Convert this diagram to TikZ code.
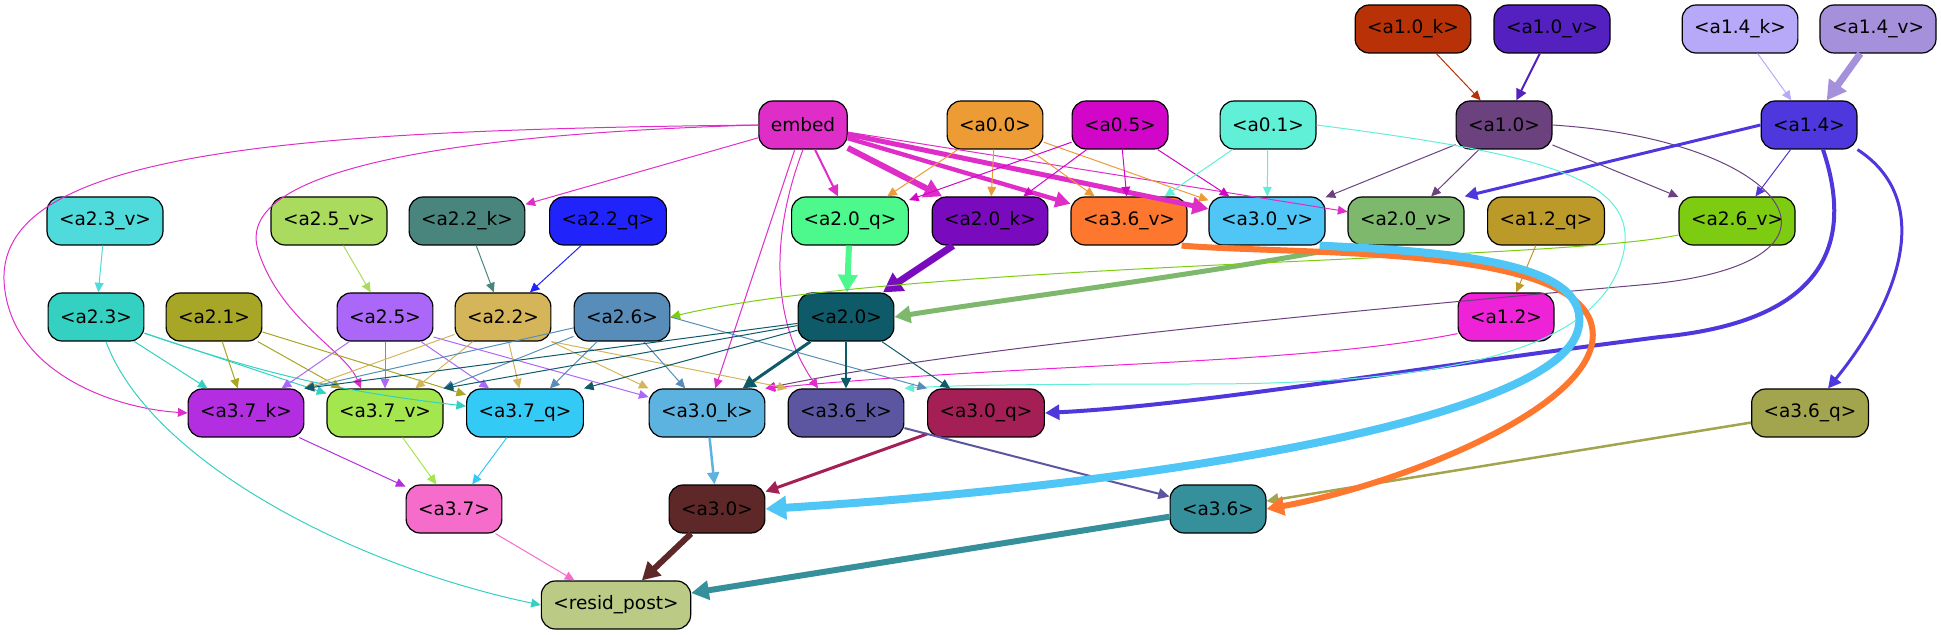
\documentclass[tikz,border=0pt]{standalone}
\usepackage{fontspec}
\setmainfont{DejaVu Sans}
\usetikzlibrary{arrows.meta}

\definecolor{cemb}{HTML}{DF2EC8}
\definecolor{c00}{HTML}{EC9B35}
\definecolor{c05}{HTML}{D106C8}
\definecolor{c01}{HTML}{60F0D8}
\definecolor{c10k}{HTML}{B93106}
\definecolor{c10v}{HTML}{5520C0}
\definecolor{c14k}{HTML}{B8A8F8}
\definecolor{c14v}{HTML}{A590DC}
\definecolor{c10}{HTML}{6B427E}
\definecolor{c14}{HTML}{4E37DC}
\definecolor{c20q}{HTML}{4DF98D}
\definecolor{c20k}{HTML}{7A0ABE}
\definecolor{c36v}{HTML}{FD772F}
\definecolor{c30v}{HTML}{4FC6F6}
\definecolor{c20v}{HTML}{7DB86C}
\definecolor{c12q}{HTML}{BB9A2A}
\definecolor{c26v}{HTML}{7DCC12}
\definecolor{c23v}{HTML}{4FDBDB}
\definecolor{c25v}{HTML}{AADB5E}
\definecolor{c22k}{HTML}{4A857D}
\definecolor{c22q}{HTML}{2123FB}
\definecolor{c23}{HTML}{34D1C2}
\definecolor{c21}{HTML}{A8A626}
\definecolor{c25}{HTML}{AB68F8}
\definecolor{c22}{HTML}{D4B55A}
\definecolor{c26}{HTML}{578DB8}
\definecolor{c20}{HTML}{0F5A68}
\definecolor{c12}{HTML}{EE22D6}
\definecolor{c37k}{HTML}{B22EE0}
\definecolor{c37v}{HTML}{A3E64E}
\definecolor{c37q}{HTML}{33CAF5}
\definecolor{c30k}{HTML}{5DB3E0}
\definecolor{c36k}{HTML}{5C56A0}
\definecolor{c30q}{HTML}{A31F55}
\definecolor{c36q}{HTML}{A3A54E}
\definecolor{c37}{HTML}{F56CCB}
\definecolor{c30}{HTML}{5E2828}
\definecolor{c36}{HTML}{35909B}
\definecolor{cres}{HTML}{BBCA85}

\begin{document}
\begin{tikzpicture}[
  x=0.5pt, y=-0.5pt,
  blk/.style={draw, line width=0.6pt, rounded corners=7pt, minimum height=24pt,
    inner xsep=6pt, inner ysep=0pt, font=\fontsize{9.25}{11}\selectfont},
  lnk/.style={-{Triangle[length=4pt 1.6,width=3.4pt 2]}, line width=0.5pt},
]
\useasboundingbox (0,0) rectangle (1941,635);

\node [blk, fill=c10k] (a10k) at (1413,29) {<a1.0\_k>};
\node [blk, fill=c10v] (a10v) at (1552,29) {<a1.0\_v>};
\node [blk, fill=c14k] (a14k) at (1740,29) {<a1.4\_k>};
\node [blk, fill=c14v] (a14v) at (1878,29) {<a1.4\_v>};

\node [blk, fill=cemb] (emb) at (803,125) {embed};
\node [blk, fill=c00] (a00) at (995,125) {<a0.0>};
\node [blk, fill=c05] (a05) at (1120,125) {<a0.5>};
\node [blk, fill=c01] (a01) at (1268,125) {<a0.1>};
\node [blk, fill=c10] (a10) at (1504,125) {<a1.0>};
\node [blk, fill=c14] (a14) at (1809,125) {<a1.4>};

\node [blk, fill=c23v] (a23v) at (105,221) {<a2.3\_v>};
\node [blk, fill=c25v] (a25v) at (329,221) {<a2.5\_v>};
\node [blk, fill=c22k] (a22k) at (467,221) {<a2.2\_k>};
\node [blk, fill=c22q] (a22q) at (608,221) {<a2.2\_q>};
\node [blk, fill=c20q] (a20q) at (850,221) {<a2.0\_q>};
\node [blk, fill=c20k] (a20k) at (990,221) {<a2.0\_k>};
\node [blk, fill=c36v] (a36v) at (1129,221) {<a3.6\_v>};
\node [blk, fill=c30v] (a30v) at (1267,221) {<a3.0\_v>};
\node [blk, fill=c20v] (a20v) at (1406,221) {<a2.0\_v>};
\node [blk, fill=c12q] (a12q) at (1546,221) {<a1.2\_q>};
\node [blk, fill=c26v] (a26v) at (1737,221) {<a2.6\_v>};

\node [blk, fill=c23] (a23) at (96,317) {<a2.3>};
\node [blk, fill=c21] (a21) at (214,317) {<a2.1>};
\node [blk, fill=c25] (a25) at (385,317) {<a2.5>};
\node [blk, fill=c22] (a22) at (503,317) {<a2.2>};
\node [blk, fill=c26] (a26) at (622,317) {<a2.6>};
\node [blk, fill=c20] (a20) at (846,317) {<a2.0>};
\node [blk, fill=c12] (a12) at (1506,317) {<a1.2>};

\node [blk, fill=c37k] (a37k) at (246,413) {<a3.7\_k>};
\node [blk, fill=c37v] (a37v) at (385,413) {<a3.7\_v>};
\node [blk, fill=c37q] (a37q) at (525,413) {<a3.7\_q>};
\node [blk, fill=c30k] (a30k) at (707,413) {<a3.0\_k>};
\node [blk, fill=c36k] (a36k) at (846,413) {<a3.6\_k>};
\node [blk, fill=c30q] (a30q) at (986,413) {<a3.0\_q>};
\node [blk, fill=c36q] (a36q) at (1810,413) {<a3.6\_q>};

\node [blk, fill=c37] (a37) at (454,509) {<a3.7>};
\node [blk, fill=c30] (a30) at (717,509) {<a3.0>};
\node [blk, fill=c36] (a36) at (1218,509) {<a3.6>};

\node [blk, fill=cres] (res) at (616,605) {<resid\_post>};

\draw [lnk, c10k] (a10k) -- (a10);
\draw [lnk, c10v, line width=1pt] (a10v) -- (a10);
\draw [lnk, c14k] (a14k) -- (a14);
\draw [lnk, c14v, line width=3.5pt] (a14v) -- (a14);

\draw [lnk, c10] (a10) -- (a30v);
\draw [lnk, c10] (a10) -- (a20v);
\draw [lnk, c10] (a10) -- (a26v);
\draw [lnk, c10] (a10.east) .. controls (1790,140) and (1880,265) .. (1640,285) .. controls (1300,315) and (950,350) .. (a30k.north east);
\draw [lnk, c14, line width=1.5pt] (a14.west) -- (a20v.north east);
\draw [lnk, c14] (a14) -- (a26v);
\draw [lnk, c14, line width=2pt] ([xshift=7pt]a14.south) .. controls (1850,230) and (1840,320) .. (1660,337) .. controls (1400,370) and (1200,405) .. (a30q.east);
\draw [lnk, c14, line width=1.5pt] (a14.south east) .. controls (1935,200) and (1900,300) .. ([xshift=9pt]a36q.north);

\draw [lnk, cemb, line width=1pt] (emb) -- (a20q);
\draw [lnk, cemb, line width=3pt] (emb) -- (a20k);
\draw [lnk, cemb, line width=2.2pt] (emb) -- (a36v);
\draw [lnk, cemb, line width=2.5pt] (emb) -- (a30v);
\draw [lnk, cemb] (emb) -- (a20v);
\draw [lnk, cemb] (emb) -- (a22k);
\draw [lnk, cemb] (emb.west) .. controls (300,130) and (0,150) .. (4,280) .. controls (8,370) and (110,408) .. (a37k.west);
\draw [lnk, cemb] (emb.west) .. controls (420,135) and (235,175) .. (258,250) .. controls (280,320) and (345,350) .. ([xshift=-12pt]a37v.north);
\draw [lnk, cemb] (emb) -- (a30k);
\draw [lnk, cemb] (emb.south) .. controls (765,250) and (778,330) .. ([xshift=-14pt]a36k.north);

\draw [lnk, c00] (a00) -- (a20q);
\draw [lnk, c00] (a00) -- (a20k);
\draw [lnk, c00] (a00) -- (a36v);
\draw [lnk, c00] (a00) -- (a30v);
\draw [lnk, c05] (a05) -- (a20q);
\draw [lnk, c05] (a05) -- (a20k);
\draw [lnk, c05] (a05) -- (a36v);
\draw [lnk, c05] (a05) -- (a30v);
\draw [lnk, c01] (a01) -- (a36v);
\draw [lnk, c01] (a01) -- (a30v);
\draw [lnk, c01] (a01.east) .. controls (1550,155) and (1650,180) .. (1620,265) .. controls (1590,350) and (1450,384) .. (1200,384) .. controls (1000,384) and (940,386) .. (a36k.north east);

\draw [lnk, c20q, line width=3pt] (a20q) -- (a20);
\draw [lnk, c20k, line width=3.5pt] (a20k) -- (a20);
\draw [lnk, c20v, line width=2.5pt] ([xshift=3pt]a20v.south west) .. controls (1200,275) and (1000,300) .. (a20.east);
\draw [lnk, c26v] ([yshift=-7pt]a26v.west) .. controls (1550,262) and (900,262) .. (a26.east);
\draw [lnk, c23v] (a23v) -- (a23);
\draw [lnk, c25v] (a25v) -- (a25);
\draw [lnk, c22k] (a22k) -- (a22);
\draw [lnk, c22q] (a22q) -- (a22);
\draw [lnk, c12q] (a12q) -- (a12);
\draw [lnk, c12] ([yshift=4pt]a12.south west) .. controls (1300,365) and (1050,362) .. (a30k.north east);

\draw [lnk, c23] (a23) -- (a37k);
\draw [lnk, c23] (a23) -- (a37v);
\draw [lnk, c23] (a23) to [bend right=6] (a37q);
\draw [lnk, c23] ([xshift=5pt]a23.south) .. controls (150,460) and (350,565) .. (res.west);
\draw [lnk, c21] (a21) -- (a37k);
\draw [lnk, c21] (a21) -- (a37v);
\draw [lnk, c21] (a21) -- (a37q);
\draw [lnk, c25] (a25) -- (a37k);
\draw [lnk, c25] (a25) -- (a37v);
\draw [lnk, c25] (a25) -- (a37q);
\draw [lnk, c25] ([yshift=-10pt]a25.east) -- ([yshift=8pt]a30k.west);
\draw [lnk, c22] (a22) -- (a37k.north east);
\draw [lnk, c22] (a22) -- (a37v);
\draw [lnk, c22] (a22) -- (a37q);
\draw [lnk, c22] (a22.south east) -- (a30k.north west);
\draw [lnk, c22] (a22.south east) -- (a36k.north west);
\draw [lnk, c26] (a26) -- (a37k.north east);
\draw [lnk, c26] (a26) -- (a37v.north east);
\draw [lnk, c26] (a26) -- (a37q);
\draw [lnk, c26] (a26) -- (a30k);
\draw [lnk, c26] (a26.east) -- (a30q.north west);
\draw [lnk, c20] (a20) -- (a37k.north east);
\draw [lnk, c20] (a20) -- (a37v.north east);
\draw [lnk, c20] (a20) -- (a37q.north east);
\draw [lnk, c20, line width=1.5pt] (a20) -- (a30k);
\draw [lnk, c20, line width=0.8pt] (a20) -- (a36k);
\draw [lnk, c20] (a20) -- (a30q);

\draw [lnk, c37k] (a37k) -- (a37);
\draw [lnk, c37v] (a37v) -- (a37);
\draw [lnk, c37q] (a37q) -- (a37);
\draw [lnk, c30k, line width=1.25pt] (a30k) -- (a30);
\draw [lnk, c30q, line width=1.5pt] (a30q) -- (a30);
\draw [lnk, c36k, line width=1pt] (a36k) -- (a36);
\draw [lnk, c36q, line width=1.25pt] (a36q) -- (a36);
\draw [lnk, c36v, line width=3pt] ([xshift=-3pt]a36v.south east) .. controls (1300,255) and (1560,245) .. (1590,320) .. controls (1620,400) and (1400,485) .. (a36.east);
\draw [lnk, c30v, line width=4pt] ([xshift=-3pt]a30v.south east) .. controls (1450,252) and (1595,262) .. (1578,330) .. controls (1555,420) and (1150,485) .. (a30.east);

\draw [lnk, c37] (a37) -- (res);
\draw [lnk, c30, line width=3pt] (a30) -- (res);
\draw [lnk, c36, line width=3pt] (a36) -- (res);

\end{tikzpicture}
\end{document}
